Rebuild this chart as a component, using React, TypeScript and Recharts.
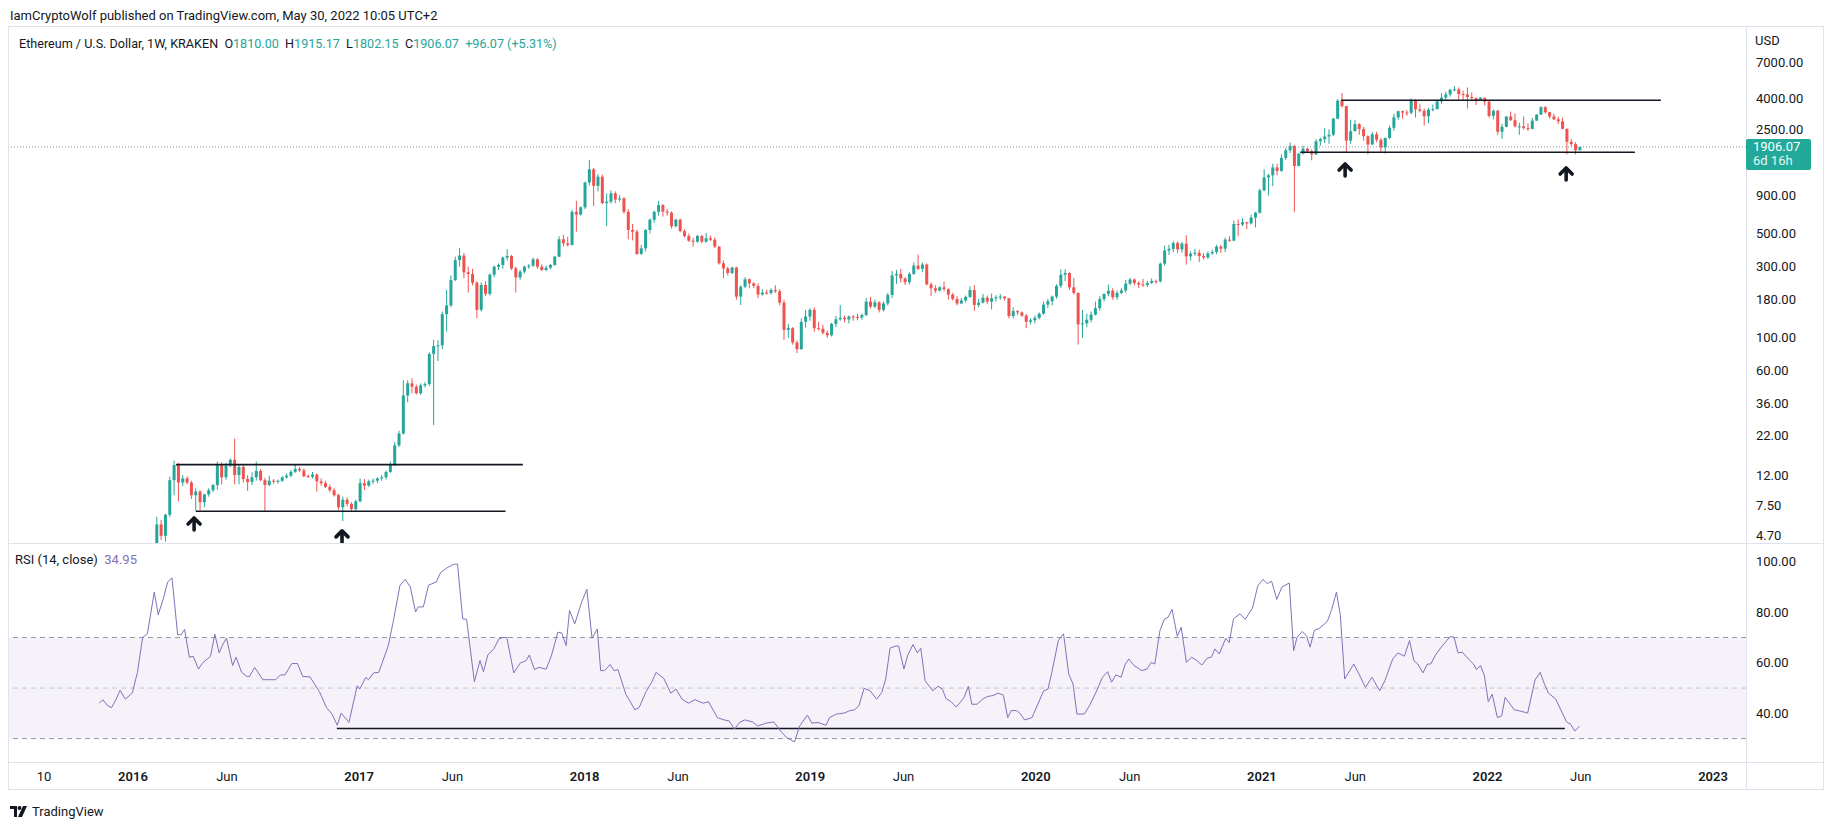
import React from 'react';
import {
  ComposedChart,
  Bar,
  Line,
  XAxis,
  YAxis,
  ReferenceLine,
  ReferenceArea,
  ReferenceDot,
} from 'recharts';

type Candle = [number, number, number, number]; // open, high, low, close

const FONT = 'Roboto, "Liberation Sans", Arial, sans-serif';
const TEXT = '#131722';
const BORDER = '#e0e3eb';
const UP = '#26a69a';
const DOWN = '#ef5350';
const RSI_COLOR = '#8470b8';

// weekly candles, one row per week starting Mon 1 Feb 2016
const candles2016: Candle[] = [
  [2.3, 2.8, 2.1, 2.5], [2.5, 6.3, 2.4, 5.6], [5.6, 6.0, 4.4, 4.7], [4.7, 6.6, 4.3, 6.5],
  [6.5, 11.7, 6.3, 11.1], [11.1, 15.0, 8.8, 14.0], [14.0, 14.5, 8.0, 10.7], [10.7, 12.0, 10.1, 11.4],
  [11.4, 11.8, 10.4, 10.7], [10.7, 11.0, 8.3, 8.8], [8.8, 9.8, 6.9, 9.3], [9.3, 9.5, 7.0, 7.9],
  [7.9, 9.0, 7.3, 8.9], [8.9, 9.8, 8.6, 9.5], [9.5, 10.5, 9.2, 10.3], [10.3, 14.8, 9.6, 14.0],
  [14.0, 14.6, 10.4, 11.6], [11.6, 14.5, 11.2, 13.9], [13.9, 15.5, 13.5, 15.2], [15.2, 21.1, 10.4, 12.0],
  [12.0, 14.2, 10.4, 13.6], [13.6, 14.0, 10.7, 11.3], [11.3, 12.0, 9.4, 10.8], [10.8, 12.5, 10.3, 11.6],
  [11.6, 14.8, 11.0, 12.8], [12.8, 13.2, 10.9, 11.1], [11.1, 11.5, 6.9, 10.3], [10.3, 11.9, 10.1, 11.0],
  [11.0, 11.3, 10.5, 10.9], [10.9, 11.2, 10.5, 11.0], [11.0, 11.8, 10.8, 11.6], [11.6, 12.3, 11.3, 11.9],
  [11.9, 13.0, 11.6, 12.6], [12.6, 14.1, 12.4, 13.2], [13.2, 13.6, 12.6, 12.9], [12.9, 13.3, 11.6, 11.8],
  [11.8, 12.1, 11.5, 11.7], [11.7, 12.6, 11.4, 12.1], [12.1, 12.3, 9.3, 10.9], [10.9, 11.4, 10.2, 10.6],
  [10.6, 11.0, 9.8, 10.0], [10.0, 10.4, 9.2, 9.5], [9.5, 9.8, 8.6, 8.8], [8.8, 9.0, 7.0, 7.3],
  [7.3, 8.6, 5.9, 8.2], [8.2, 8.5, 7.4, 7.7], [7.7, 7.9, 6.9, 7.1], [7.1, 8.2, 6.9, 8.0],
];

const candles2017: Candle[] = [
  [8.0, 11.4, 7.9, 10.6], [10.6, 11.3, 9.5, 10.2], [10.2, 11.2, 10.0, 10.9], [10.9, 11.4, 10.5, 11.0],
  [11.0, 11.6, 10.6, 11.4], [11.4, 12.0, 11.0, 11.6], [11.6, 12.9, 11.2, 12.6], [12.6, 14.8, 12.4, 14.0],
  [14.0, 20.0, 13.8, 19.0], [19.0, 23.8, 18.5, 22.8], [22.8, 52.0, 22.5, 41.0], [41.0, 52.0, 37.0, 49.5],
  [49.5, 53.5, 42.5, 47.0], [47.0, 48.5, 41.5, 42.5], [42.5, 49.5, 41.5, 48.0], [48.0, 50.5, 46.5, 49.0],
  [49.0, 80.0, 47.5, 78.0], [78.0, 97.0, 26.0, 88.0], [88.0, 96.0, 70.0, 89.0], [89, 150, 84, 144],
  [144, 210, 110, 165], [165, 262, 160, 244], [244, 350, 240, 332], [332, 400, 300, 356],
  [356, 370, 251, 275], [275, 300, 201, 268], [268, 290, 225, 234], [234, 240, 135, 154],
  [154, 235, 150, 226], [226, 240, 190, 197], [197, 270, 192, 265], [265, 305, 255, 300],
  [300, 315, 285, 308], [308, 350, 290, 345], [345, 392, 330, 354], [354, 360, 285, 292],
  [292, 300, 201, 254], [254, 285, 245, 278], [278, 305, 270, 300], [300, 312, 290, 305],
  [305, 345, 298, 336], [336, 342, 290, 300], [300, 310, 280, 285], [285, 305, 280, 295],
  [295, 312, 288, 308], [308, 355, 305, 350], [350, 480, 348, 458], [458, 490, 410, 430],
  [430, 475, 410, 420], [420, 720, 415, 700], [700, 830, 515, 670], [670, 760, 660, 750],
];

const candles2018: Candle[] = [
  [750, 1115, 730, 1100], [1100, 1560, 1050, 1349], [1349, 1380, 763, 1045], [1045, 1250, 960, 1204],
  [1204, 1245, 790, 800], [800, 930, 560, 818], [818, 975, 795, 931], [931, 960, 800, 845],
  [845, 905, 820, 860], [860, 880, 680, 700], [700, 730, 458, 529], [529, 580, 450, 515],
  [515, 530, 360, 365], [365, 420, 360, 398], [398, 535, 380, 529], [529, 630, 500, 620],
  [620, 710, 590, 700], [700, 830, 660, 777], [777, 790, 650, 702], [702, 730, 660, 690],
  [690, 705, 540, 560], [560, 630, 550, 620], [620, 630, 510, 520], [520, 535, 470, 482],
  [482, 500, 440, 448], [448, 470, 409, 441], [441, 490, 435, 482], [482, 490, 430, 441],
  [441, 505, 435, 465], [465, 485, 445, 455], [455, 470, 400, 409], [409, 412, 310, 316],
  [316, 330, 251, 292], [292, 300, 262, 272], [272, 300, 268, 296], [296, 300, 180, 189],
  [189, 225, 166, 220], [220, 255, 215, 247], [247, 250, 215, 232], [232, 235, 215, 223],
  [223, 232, 185, 195], [195, 212, 192, 201], [201, 210, 195, 200], [200, 215, 195, 209],
  [209, 225, 200, 205], [205, 212, 165, 172], [172, 180, 97, 113], [113, 124, 100, 116],
  [116, 118, 90, 93], [93, 96, 79, 84], [84, 135, 83, 128], [128, 154, 117, 139],
  [139, 158, 130, 154],
];

const candles2019: Candle[] = [
  [154, 160, 110, 116], [116, 128, 112, 115], [115, 122, 105, 108], [108, 112, 100, 104],
  [104, 126, 102, 124], [124, 140, 118, 133], [133, 166, 130, 136], [136, 141, 127, 133],
  [133, 141, 125, 139], [139, 142, 130, 138], [138, 145, 131, 137], [137, 145, 132, 142],
  [142, 185, 140, 175], [175, 188, 158, 162], [162, 180, 158, 173], [173, 176, 148, 154],
  [154, 175, 150, 170], [170, 200, 165, 194], [194, 280, 185, 262], [262, 285, 230, 268],
  [268, 290, 235, 250], [250, 255, 226, 236], [236, 275, 228, 268], [268, 320, 265, 305],
  [305, 362, 285, 290], [290, 320, 275, 310], [310, 315, 225, 228], [228, 235, 190, 215],
  [215, 225, 200, 207], [207, 222, 205, 218], [218, 238, 205, 212], [212, 215, 180, 195],
  [195, 200, 178, 182], [182, 190, 165, 170], [170, 185, 168, 178], [178, 192, 172, 188],
  [188, 222, 185, 209], [209, 225, 152, 166], [166, 182, 160, 172], [172, 197, 170, 186],
  [186, 192, 168, 175], [175, 198, 155, 184], [184, 193, 175, 187], [187, 197, 180, 189],
  [189, 190, 178, 184], [184, 185, 135, 140], [140, 160, 135, 151], [151, 153, 142, 148],
  [148, 150, 138, 141], [141, 144, 116, 128], [128, 135, 123, 131], [131, 141, 125, 136],
];

const candles2020: Candle[] = [
  [136, 148, 133, 145], [145, 175, 143, 167], [167, 182, 158, 176], [176, 192, 165, 189],
  [189, 228, 183, 223], [223, 288, 215, 265], [265, 288, 240, 272], [272, 275, 210, 218],
  [218, 252, 195, 200], [200, 202, 90, 123], [123, 154, 100, 125], [125, 145, 118, 132],
  [132, 150, 127, 143], [143, 175, 141, 158], [158, 190, 152, 182], [182, 198, 175, 197],
  [197, 227, 190, 207], [207, 215, 180, 187], [187, 208, 180, 200], [200, 215, 196, 208],
  [208, 245, 200, 231], [231, 252, 225, 246], [246, 250, 225, 233], [233, 240, 215, 228],
  [228, 248, 220, 226], [226, 241, 219, 233], [233, 250, 230, 240], [240, 246, 230, 239],
  [239, 320, 235, 314], [314, 416, 305, 385], [385, 420, 360, 395], [395, 445, 375, 432],
  [432, 445, 370, 392], [392, 440, 372, 428], [428, 488, 310, 352], [352, 380, 330, 366],
  [366, 395, 355, 372], [372, 390, 322, 354], [354, 370, 335, 346], [346, 380, 338, 368],
  [368, 390, 360, 376], [376, 420, 365, 409], [409, 420, 370, 396], [396, 470, 375, 455],
  [455, 480, 440, 448], [448, 610, 445, 580], [580, 622, 480, 575], [575, 635, 560, 595],
  [595, 600, 535, 585], [585, 670, 575, 640], [640, 700, 550, 690], [690, 1000, 680, 975],
];

const candles2021: Candle[] = [
  [975, 1350, 960, 1190], [1190, 1260, 900, 1230], [1230, 1470, 1040, 1390], [1390, 1470, 1230, 1315],
  [1315, 1700, 1300, 1610], [1610, 1875, 1560, 1810], [1810, 2040, 1735, 1935], [1935, 1960, 700, 1420],
  [1420, 1730, 1410, 1720], [1720, 1945, 1690, 1855], [1855, 1880, 1730, 1780], [1780, 1830, 1550, 1700],
  [1700, 2150, 1680, 2080], [2080, 2200, 1940, 2150], [2150, 2550, 2020, 2240], [2240, 2500, 2000, 2300],
  [2300, 2980, 2250, 2950], [2950, 3980, 2920, 3900], [3900, 4380, 3500, 3580], [3580, 3600, 1750, 2100],
  [2100, 2900, 2000, 2430], [2430, 2890, 2430, 2710], [2710, 2750, 2300, 2510], [2510, 2590, 2100, 2250],
  [2250, 2280, 1700, 1980], [1980, 2400, 1960, 2320], [2320, 2410, 2050, 2130], [2130, 2180, 1770, 1890],
  [1890, 2200, 1720, 2190], [2190, 2650, 2150, 2560], [2560, 3180, 2450, 3010], [3010, 3330, 2900, 3310],
  [3310, 3340, 2950, 3240], [3240, 3370, 3080, 3230], [3230, 4030, 3150, 3930], [3930, 3970, 3000, 3410],
  [3410, 3680, 3250, 3330], [3330, 3450, 2650, 3060], [3060, 3490, 2750, 3390], [3390, 3670, 3300, 3420],
  [3420, 3900, 3400, 3850], [3850, 4380, 3700, 4080], [4080, 4460, 3900, 4290], [4290, 4670, 4150, 4610],
  [4610, 4870, 4500, 4640], [4640, 4770, 3940, 4310], [4310, 4550, 3920, 4290], [4290, 4780, 3450, 4120],
  [4120, 4430, 3900, 4050], [4050, 4100, 3640, 3920], [3920, 4120, 3900, 4070], [4070, 4100, 3620, 3830],
];

const candles2022: Candle[] = [
  [3830, 3880, 3000, 3080], [3080, 3410, 2920, 3330], [3330, 3380, 2300, 2410], [2410, 2720, 2160, 2600],
  [2600, 3060, 2580, 3050], [3050, 3290, 2850, 2880], [2880, 3200, 2570, 2620], [2620, 2770, 2300, 2620],
  [2620, 3050, 2490, 2550], [2550, 2740, 2440, 2520], [2520, 2990, 2500, 2860], [2860, 3160, 2850, 3140],
  [3140, 3580, 3130, 3520], [3520, 3580, 3180, 3260], [3260, 3270, 2950, 3050], [3050, 3190, 2890, 2920],
  [2920, 3030, 2710, 2830], [2830, 3000, 2500, 2520], [2520, 2530, 1700, 2060], [2060, 2160, 1920, 1990],
  [1990, 2050, 1700, 1810], [1810, 1915.17, 1802.15, 1906.07],
];

// RSI(14): [week, value]
const rsi2015to2017: [number, number][] = [
  [-12.2, 44.0], [-11.4, 45.4], [-10.4, 43.2], [-9.4, 42.2], [-8.5, 45.0], [-7.4, 49.1], [-6.2, 45.6],
  [-4.6, 48.0], [-3.4, 56.2], [-2.2, 70.0], [-1.1, 71.5], [0.5, 88.0], [1.4, 79.0], [2.6, 85.4],
  [3.6, 92.0], [4.6, 93.6], [5.9, 71.1], [6.7, 71.1], [7.5, 73.2], [8.6, 62.2], [9.5, 62.6],
  [10.7, 57.5], [11.7, 60.0], [13.5, 62.6], [14.5, 71.3], [15.5, 63.9], [16.4, 67.5], [17.2, 69.7],
  [18.6, 58.9], [19.4, 62.2], [20.7, 56.2], [21.9, 54.6], [22.5, 54.6], [23.7, 58.2], [25.6, 53.3],
  [26.7, 53.3], [28.5, 53.3], [29.7, 55.2], [30.7, 55.2], [32.3, 59.7], [33.6, 59.7], [34.8, 54.6],
  [36.5, 54.4], [38.7, 48.5], [40.3, 42.3], [41.6, 39.7], [42.8, 35.3], [43.7, 40.1], [45.5, 36.4],
  [47.4, 50.9], [48.0, 49.6], [49.4, 54.2], [50.0, 53.3], [51.2, 56.0], [52.4, 56.2], [54.6, 66.8],
  [55.8, 76.8], [57.3, 90.7], [58.5, 93.0], [59.7, 90.0], [60.9, 80.1], [61.5, 82.1], [62.7, 82.1],
  [63.9, 90.7], [65.7, 92.0], [66.7, 95.7], [68.1, 97.5], [69.6, 98.9], [70.6, 99.1], [71.8, 77.4],
  [72.7, 77.2], [74.5, 52.5], [75.8, 60.9], [76.6, 56.5], [77.6, 63.1], [79.0, 65.5], [80.2, 69.5],
  [81.2, 70.0], [82.0, 70.0], [83.6, 56.0], [85.1, 59.9], [86.5, 60.9], [87.2, 63.1], [88.4, 57.3],
  [89.4, 58.2], [91.1, 57.5], [92.3, 62.8], [93.8, 72.1], [94.7, 71.8], [95.7, 66.8], [96.5, 80.7],
  [97.7, 75.4], [99.3, 84.0],
];

const rsi2018to2019: [number, number][] = [
  [100.5, 89.1], [101.7, 69.7], [102.9, 73.4], [103.7, 56.9], [104.6, 56.9], [105.9, 59.3],
  [106.8, 56.9], [107.7, 57.3], [109.5, 47.6], [110.4, 45.0], [111.6, 41.4], [112.6, 42.3],
  [114.1, 48.3], [115.5, 52.3], [116.5, 56.2], [118.3, 53.8], [119.9, 48.0], [121.1, 49.6],
  [122.5, 45.6], [124.0, 44.0], [125.5, 45.4], [127.4, 44.0], [128.6, 44.6], [130.7, 38.3],
  [132.2, 37.4], [133.4, 37.0], [134.6, 33.7], [135.8, 36.4], [137.0, 37.4], [138.8, 36.6],
  [140.0, 35.0], [141.9, 36.1], [143.7, 36.6], [145.5, 32.6], [146.7, 30.4], [148.5, 28.7],
  [149.7, 35.0], [151.5, 39.3], [152.5, 36.1], [153.9, 36.4], [155.8, 35.3], [156.6, 38.3],
  [158.2, 39.7], [160.0, 40.1], [161.2, 41.0], [162.4, 41.4], [163.4, 43.0], [164.6, 49.9],
  [166.0, 48.9], [167.5, 45.6], [168.7, 48.3], [169.6, 53.6], [170.6, 65.8], [171.8, 66.6],
  [172.6, 66.6], [173.8, 57.5], [174.7, 63.1], [175.9, 67.2], [176.9, 63.9], [177.7, 65.8],
  [178.7, 52.9], [180.5, 48.9], [181.7, 50.7], [182.7, 49.6], [183.5, 45.9], [184.7, 44.6],
  [185.9, 42.5], [186.8, 44.3], [187.7, 46.3], [188.7, 50.7], [189.5, 43.6], [190.7, 43.6],
  [192.0, 45.6], [193.2, 46.7], [194.4, 47.0], [195.6, 48.0], [196.8, 47.2], [197.8, 38.3],
  [198.6, 41.1], [199.8, 41.1], [200.8, 39.7], [201.7, 37.4], [203.4, 38.3], [204.6, 43.0],
];

const rsi2020to2022: [number, number][] = [
  [206.1, 48.9], [207.1, 49.6], [208.0, 56.2], [209.5, 68.8], [210.7, 71.5], [211.9, 55.6],
  [212.9, 51.6], [213.8, 39.7], [215.5, 39.7], [216.7, 43.0], [218.2, 48.3], [219.7, 54.2],
  [220.9, 56.5], [221.8, 52.3], [222.8, 55.2], [224.0, 54.3], [225.0, 59.5], [225.8, 61.5],
  [227.0, 58.9], [228.8, 56.9], [230.0, 57.5], [231.0, 60.2], [231.8, 59.5], [233.0, 72.8],
  [234.0, 77.2], [234.9, 78.1], [235.8, 81.1], [237.0, 70.5], [237.9, 74.1], [239.1, 60.2],
  [240.3, 62.2], [241.5, 60.9], [242.7, 59.1], [243.9, 61.8], [244.9, 62.2], [245.7, 65.5],
  [246.7, 63.5], [248.2, 69.7], [249.0, 68.0], [250.0, 77.4], [251.5, 79.4], [252.7, 77.2],
  [254.4, 81.7], [255.6, 90.4], [256.8, 93.0], [257.8, 91.3], [258.8, 92.3], [260.0, 85.1],
  [261.2, 90.0], [262.9, 91.6], [263.9, 64.8], [264.7, 70.1], [265.9, 72.4], [266.9, 70.5],
  [267.7, 66.2], [268.7, 72.8], [269.9, 73.7], [271.7, 76.4], [272.7, 81.1], [273.8, 88.0],
  [274.7, 78.8], [275.7, 53.6], [277.8, 59.5], [279.0, 55.6], [280.5, 50.3], [282.0, 54.3],
  [283.8, 48.9], [285.0, 52.9], [286.8, 61.5], [288.0, 63.9], [289.5, 62.6], [290.7, 68.8],
  [291.7, 60.9], [292.6, 59.5], [293.8, 56.0], [294.8, 59.5], [295.6, 59.5], [296.7, 63.1],
  [298.3, 66.8], [300.1, 70.4], [301.0, 70.1], [301.9, 63.9], [302.9, 64.2], [304.3, 61.5],
  [305.5, 59.5], [306.2, 57.3], [307.1, 58.9], [308.0, 54.9], [308.9, 44.6], [309.8, 47.6],
  [311.0, 38.3], [312.0, 39.0], [312.8, 46.3], [314.9, 41.4], [316.1, 41.0], [318.0, 40.1],
  [319.7, 53.2], [320.9, 56.2], [321.9, 51.5], [322.8, 48.0], [324.5, 45.6], [327.0, 36.6],
  [327.9, 35.7], [328.9, 33.0], [330.0, 34.95],
];

const priceTicks = [4.7, 7.5, 12, 22, 36, 60, 100, 180, 300, 500, 900, 2500, 4000, 7000];
const rsiTicks = [40, 60, 80, 100];
const timeTickDates: [number, number, number][] = [
  [2015, 8, 10], [2016, 1, 1], [2016, 6, 1], [2017, 1, 1], [2017, 6, 1], [2018, 1, 1], [2018, 6, 1],
  [2019, 1, 1], [2019, 6, 1], [2020, 1, 1], [2020, 6, 1], [2021, 1, 1], [2021, 6, 1], [2022, 1, 1],
  [2022, 6, 1], [2023, 1, 1],
];
const timeTickLabels = ['10', '2016', 'Jun', '2017', 'Jun', '2018', 'Jun', '2019', 'Jun', '2020', 'Jun',
  '2021', 'Jun', '2022', 'Jun', '2023'];

// drawn annotations (trend boxes, arrows), in week / price units
const rangeLines = [
  { from: 5.5, to: 85.7, price: 14.1 },
  { from: 10.1, to: 81.7, price: 6.87 },
  { from: 274.9, to: 348.8, price: 3916 },
  { from: 265.4, to: 342.8, price: 1754 },
];
const arrows = [
  { week: 9.7, price: 6.28 },
  { week: 43.9, price: 5.15 },
  { week: 275.8, price: 1487 },
  { week: 326.9, price: 1398 },
];
const rsiSupport = { from: 42.7, to: 326.6, value: 34.0 };

const WEEK_MS = 7 * 86400000;
const BASE = Date.UTC(2016, 1, 1);
const timeTicks = timeTickDates.map(([y, m, d]) => (Date.UTC(y, m - 1, d) - BASE) / WEEK_MS);

const allCandles = [
  ...candles2016, ...candles2017, ...candles2018, ...candles2019,
  ...candles2020, ...candles2021, ...candles2022,
];
const priceData = allCandles.map(([o, h, l, c], i) => ({ t: i, range: [l, h], o, h, l, c }));
const rsiData = [...rsi2015to2017, ...rsi2018to2019, ...rsi2020to2022].map(([t, v]) => ({ t, rsi: v }));
const last = allCandles[allCandles.length - 1];

const X_DOMAIN: [number, number] = [-33.09, 368.48];

const CandleShape = (props: any) => {
  const { x, width, payload } = props;
  let { y, height } = props;
  if (height < 0) {
    y += height;
    height = -height;
  }
  const { o, h, l, c } = payload;
  const color = c >= o ? UP : DOWN;
  const lh = Math.log(h);
  const span = lh - Math.log(l) || 1;
  const py = (v: number) => y + ((lh - Math.log(v)) / span) * height;
  const cx = x + width / 2;
  const top = py(Math.max(o, c));
  const bot = py(Math.min(o, c));
  return (
    <g>
      <line x1={cx} x2={cx} y1={y} y2={y + height} stroke={color} strokeWidth={1} />
      <rect x={x} y={top} width={width} height={Math.max(1, bot - top)} fill={color} />
    </g>
  );
};

const Arrow = (props: any) => {
  const { cx, cy } = props;
  return (
    <g stroke="#131722" strokeWidth={3.6} fill="none" strokeLinecap="round" strokeLinejoin="round">
      <polyline points={`${cx - 6},${cy + 7} ${cx},${cy + 1} ${cx + 6},${cy + 7}`} />
      <line x1={cx} x2={cx} y1={cy + 2} y2={cy + 13} />
    </g>
  );
};

const PriceTick = (props: any) => {
  const { x, y, payload } = props;
  return (
    <text x={x + 10} y={y} dy={4.5} fontSize={13} fill={TEXT} fontFamily={FONT}>
      {payload.value.toFixed(2)}
    </text>
  );
};

const TimeTick = (props: any) => {
  const { x, y, payload } = props;
  const i = timeTicks.findIndex((t) => Math.abs(t - payload.value) < 1e-6);
  const label = i >= 0 ? timeTickLabels[i] : '';
  const bold = /^\d{4}$/.test(label);
  return (
    <text x={x} y={y} dy={19} textAnchor="middle" fontSize={13} fontWeight={bold ? 600 : 400}
      fill={TEXT} fontFamily={FONT}>
      {label}
    </text>
  );
};

const PriceTag = (props: any) => {
  const { viewBox } = props;
  if (!viewBox) return null;
  const x = viewBox.x + viewBox.width;
  const y = viewBox.y;
  return (
    <g fontFamily={FONT} fontSize={13}>
      <rect x={x} y={y - 8} width={65} height={31} rx={2} fill="#22a99a" />
      <text x={x + 7} y={y + 4} fill="#ffffff">{last[3].toFixed(2)}</text>
      <text x={x + 7} y={y + 18} fill="#e6f5f3">6d 16h</text>
    </g>
  );
};

const abs = (left: number, top: number, extra: React.CSSProperties = {}): React.CSSProperties => ({
  position: 'absolute', left, top, ...extra,
});

export default function App() {
  return (
    <div style={{ position: 'absolute', left: 0, top: 0, width: 1834, height: 825, background: '#fff',
      fontFamily: FONT, color: TEXT, overflow: 'hidden' }}>
      <div style={abs(10, 7, { fontSize: 13, lineHeight: '17px' })}>
        IamCryptoWolf published on TradingView.com, May 30, 2022 10:05 UTC+2
      </div>

      {/* frame */}
      <div style={abs(8, 26, { width: 1814, height: 762, border: `1px solid ${BORDER}` })} />
      <div style={abs(8, 543, { width: 1815, height: 1, background: BORDER })} />
      <div style={abs(8, 762, { width: 1815, height: 1, background: BORDER })} />
      <div style={abs(1746, 26, { width: 1, height: 763, background: BORDER })} />

      <div style={abs(9, 27)}>
        <ComposedChart width={1814} height={516} data={priceData}
          margin={{ top: 0, right: 0, bottom: 0, left: 0 }}>
          <XAxis dataKey="t" type="number" domain={X_DOMAIN} allowDataOverflow hide />
          <YAxis orientation="right" width={77} scale="log" type="number" domain={[4.205, 12148]}
            allowDataOverflow ticks={priceTicks} interval={0} axisLine={false} tickLine={false}
            tickSize={0} tickMargin={0} tick={<PriceTick />} />
          <Bar dataKey="range" barSize={3} shape={<CandleShape />} isAnimationActive={false} />
          {rangeLines.map((r, i) => (
            <ReferenceLine key={i} segment={[{ x: r.from, y: r.price }, { x: r.to, y: r.price }]}
              stroke="#131722" strokeWidth={1.6} />
          ))}
          <ReferenceLine y={last[3]} stroke="#7a9a98" strokeDasharray="1 2" strokeWidth={1}
            label={<PriceTag />} />
          {arrows.map((a, i) => (
            <ReferenceDot key={i} x={a.week} y={a.price} r={0} shape={<Arrow />} />
          ))}
        </ComposedChart>
      </div>

      <div style={abs(19, 35, { fontSize: 12.6, lineHeight: '17px', whiteSpace: 'pre' })}>
        <span>Ethereum / U.S. Dollar, 1W, KRAKEN  </span>
        <span>O</span><span style={{ color: UP }}>{last[0].toFixed(2)}</span>
        <span>  H</span><span style={{ color: UP }}>{last[1].toFixed(2)}</span>
        <span>  L</span><span style={{ color: UP }}>{last[2].toFixed(2)}</span>
        <span>  C</span><span style={{ color: UP }}>{last[3].toFixed(2)}</span>
        <span style={{ color: UP }}>{`  +${(last[3] - last[0]).toFixed(2)} (+${((last[3] - last[0]) / last[0] * 100).toFixed(2)}%)`}</span>
      </div>
      <div style={abs(1755, 32, { fontSize: 13, lineHeight: '17px' })}>USD</div>

      <div style={abs(9, 543)}>
        <ComposedChart width={1814} height={246} data={rsiData}
          margin={{ top: 0, right: 0, bottom: 0, left: 0 }}>
          <XAxis dataKey="t" type="number" domain={X_DOMAIN} allowDataOverflow height={27}
            ticks={timeTicks} interval={0} axisLine={false} tickLine={false} tickSize={0}
            tickMargin={0} tick={<TimeTick />} />
          <YAxis orientation="right" width={77} type="number" domain={[20.74, 107.4]} allowDataOverflow
            ticks={rsiTicks} interval={0} axisLine={false} tickLine={false} tickSize={0}
            tickMargin={0} tick={<PriceTick />} />
          <ReferenceArea y1={30} y2={70} fill="#7e57c2" fillOpacity={0.08} stroke="none" />
          <ReferenceLine y={70} stroke="#9598a1" strokeDasharray="5 4" />
          <ReferenceLine y={50} stroke="#c3c5cc" strokeDasharray="5 4" />
          <ReferenceLine y={30} stroke="#9598a1" strokeDasharray="5 4" />
          <ReferenceLine segment={[{ x: rsiSupport.from, y: rsiSupport.value }, { x: rsiSupport.to, y: rsiSupport.value }]}
            stroke="#131722" strokeWidth={1.6} />
          <Line dataKey="rsi" type="linear" stroke={RSI_COLOR} strokeWidth={1} dot={false}
            isAnimationActive={false} />
        </ComposedChart>
      </div>
      <div style={abs(15, 551, { fontSize: 13, lineHeight: '17px', whiteSpace: 'pre' })}>
        <span>RSI (14, close)  </span><span style={{ color: RSI_COLOR }}>34.95</span>
      </div>

      <div style={abs(10, 803, { fontSize: 13, lineHeight: '17px', display: 'flex', alignItems: 'center' })}>
        <svg width={18} height={12} viewBox="0 0 18 12" style={{ marginRight: 4 }}>
          <path d="M0 0h7v11H4V3H0z" fill="#131722" />
          <circle cx={9.5} cy={2} r={2} fill="#131722" />
          <path d="M13 0h4l-5 11H8z" fill="#131722" />
        </svg>
        <span>TradingView</span>
      </div>
    </div>
  );
}
